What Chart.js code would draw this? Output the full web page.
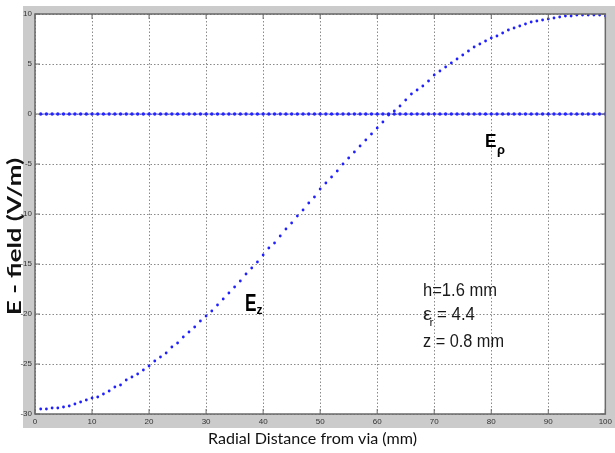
<!DOCTYPE html>
<html><head><meta charset="utf-8">
<script src="https://cdn.jsdelivr.net/npm/chart.js@4.4.1/dist/chart.umd.min.js"></script>
<style>html,body{margin:0;padding:0;background:#fff;}canvas{display:block;}</style>
</head><body>
<canvas id="c" width="615" height="453"></canvas>
<script>
const radialDistance = [1,2,3,4,5,6,7,8,9,10,11,12,13,14,15,16,17,18,19,20,21,22,23,24,25,26,27,28,29,30,31,32,33,34,35,36,37,38,39,40,41,42,43,44,45,46,47,48,49,50,51,52,53,54,55,56,57,58,59,60,61,62,63,64,65,66,67,68,69,70,71,72,73,74,75,76,77,78,79,80,81,82,83,84,85,86,87,88,89,90,91,92,93,94,95,96,97,98,99,100];
const ezValues = [-29.5,-29.5,-29.4,-29.4,-29.3,-29.2,-29.0,-28.8,-28.6,-28.4,-28.3,-28.0,-27.7,-27.3,-27.1,-26.6,-26.3,-26.0,-25.6,-25.2,-24.7,-24.3,-23.9,-23.3,-22.9,-22.3,-21.8,-21.3,-20.7,-20.2,-19.7,-19.1,-18.5,-17.9,-17.3,-16.7,-16.0,-15.4,-14.8,-14.1,-13.4,-12.9,-12.2,-11.5,-10.9,-10.2,-9.6,-8.9,-8.3,-7.5,-6.9,-6.3,-5.7,-5.0,-4.4,-3.8,-3.2,-2.6,-2.0,-1.4,-0.8,-0.1,0.3,0.8,1.4,2.0,2.4,2.8,3.3,3.9,4.3,4.7,5.1,5.5,5.9,6.3,6.7,7.0,7.3,7.6,7.8,8.1,8.4,8.6,8.8,9.0,9.2,9.3,9.4,9.5,9.6,9.7,9.8,9.8,9.9,9.9,9.9,9.9,9.9,9.8];
const erValues = [0,0,0,0,0,0,0,0,0,0,0,0,0,0,0,0,0,0,0,0,0,0,0,0,0,0,0,0,0,0,0,0,0,0,0,0,0,0,0,0,0,0,0,0,0,0,0,0,0,0,0,0,0,0,0,0,0,0,0,0,0,0,0,0,0,0,0,0,0,0,0,0,0,0,0,0,0,0,0,0,0,0,0,0,0,0,0,0,0,0,0,0,0,0,0,0,0,0,0,0];
const xTicks = [0,10,20,30,40,50,60,70,80,90,100];
const yTicks = [-30,-25,-20,-15,-10,-5,0,5,10];
const xTitle = 'Radial Distance from via (mm)';
const yTitle = 'E - field (V/m)';

function drawFit(ctx, text, x, y, font, width, rot) {
  ctx.save();
  ctx.font = font;
  const w = ctx.measureText(text).width;
  const sx = width ? width / w : 1;
  ctx.translate(x, y);
  if (rot) ctx.rotate(rot);
  ctx.scale(sx, 1);
  ctx.textAlign = 'left';
  ctx.textBaseline = 'alphabetic';
  ctx.fillText(text, 0, 0);
  ctx.restore();
}

const decor = {
  id: 'decor',
  beforeDraw(chart) {
    const {ctx, chartArea: a} = chart;
    ctx.save();
    ctx.fillStyle = '#ffffff';
    ctx.fillRect(0, 0, chart.width, chart.height);
    ctx.fillStyle = '#cbcbcb';
    ctx.fillRect(23, 6, 592, 422);
    ctx.fillStyle = '#ffffff';
    ctx.fillRect(a.left, a.top, a.right - a.left, a.bottom - a.top);
    ctx.restore();
  },
  afterDraw(chart) {
    const {ctx, chartArea: a, scales} = chart;
    ctx.save();
    ctx.strokeStyle = '#6a6a6a';
    ctx.lineWidth = 1.5;
    ctx.strokeRect(a.left, a.top, a.right - a.left, a.bottom - a.top);
    ctx.lineWidth = 1;
    ctx.beginPath();
    xTicks.forEach(v => {
      const px = scales.x.getPixelForValue(v);
      ctx.moveTo(px, a.bottom); ctx.lineTo(px, a.bottom - 5);
      ctx.moveTo(px, a.top); ctx.lineTo(px, a.top + 5);
    });
    yTicks.forEach(v => {
      const py = scales.y.getPixelForValue(v);
      ctx.moveTo(a.left, py); ctx.lineTo(a.left + 5, py);
      ctx.moveTo(a.right, py); ctx.lineTo(a.right - 5, py);
    });
    ctx.stroke();

    ctx.fillStyle = '#111';
    drawFit(ctx, xTitle, 208, 443.5, '16px Lato', 209);
    drawFit(ctx, yTitle, 20.5, 315, 'bold 19px Lato', 157, -Math.PI / 2);

    ctx.fillStyle = '#000';
    drawFit(ctx, 'E', 245, 311, 'bold 23px "Liberation Sans"', 11.5);
    drawFit(ctx, 'z', 256.5, 314, 'bold 12px "Liberation Sans"', 6);
    drawFit(ctx, 'E', 485, 147, 'bold 19px "Liberation Sans"', 11.5);
    drawFit(ctx, 'ρ', 497, 154, 'bold 12px "Liberation Sans"', 8);

    ctx.fillStyle = '#1a1a1a';
    drawFit(ctx, 'h=1.6 mm', 423, 295.5, '18px "Liberation Sans"', 74);
    drawFit(ctx, 'ε', 423, 320, '18px "Liberation Sans"', 9);
    drawFit(ctx, 'r', 429.5, 326, '11px "Liberation Sans"', 4);
    drawFit(ctx, '= 4.4', 437, 320, '18px "Liberation Sans"', 38);
    drawFit(ctx, 'z = 0.8 mm', 423, 347, '18px "Liberation Sans"', 81);
    ctx.restore();
  }
};

const tickFont = {family: '"Liberation Sans Narrow", "Liberation Sans", sans-serif', size: 8};

new Chart(document.getElementById('c'), {
  type: 'scatter',
  data: {
    datasets: [
      {
        label: 'Ez',
        data: radialDistance.map((x, i) => ({x, y: ezValues[i]})),
        showLine: false,
        pointRadius: 1.4,
        pointBorderWidth: 0,
        pointBackgroundColor: '#1f1fff',
        pointHoverRadius: 0
      },
      {
        label: 'Erho',
        data: radialDistance.map((x, i) => ({x, y: erValues[i]})),
        showLine: true,
        borderColor: 'rgba(60,60,255,0.75)',
        borderWidth: 1,
        pointRadius: 1.7,
        pointBorderWidth: 0,
        pointBackgroundColor: '#2424ff',
        pointHoverRadius: 0
      }
    ]
  },
  options: {
    responsive: false,
    animation: false,
    events: [],
    layout: {padding: {left: 0, right: 4, top: 14, bottom: 0}},
    plugins: {legend: {display: false}, tooltip: {enabled: false}},
    scales: {
      x: {
        type: 'linear', min: 0, max: 100,
        afterBuildTicks: s => { s.ticks = xTicks.map(v => ({value: v})); },
        afterFit: s => { s.height = 39; },
        ticks: {font: tickFont, color: '#333', padding: 3, maxRotation: 0, autoSkip: false},
        grid: {color: '#8a8a8a', lineWidth: 1, drawTicks: false},
        border: {display: false, dash: [1.5, 2]}
      },
      y: {
        type: 'linear', min: -30, max: 10,
        afterBuildTicks: s => { s.ticks = yTicks.map(v => ({value: v})); },
        afterFit: s => { s.width = 35; },
        ticks: {font: tickFont, color: '#333', padding: 3, autoSkip: false},
        grid: {color: '#8a8a8a', lineWidth: 1, drawTicks: false},
        border: {display: false, dash: [1.5, 2]}
      }
    }
  },
  plugins: [decor]
});
</script>
</body></html>
